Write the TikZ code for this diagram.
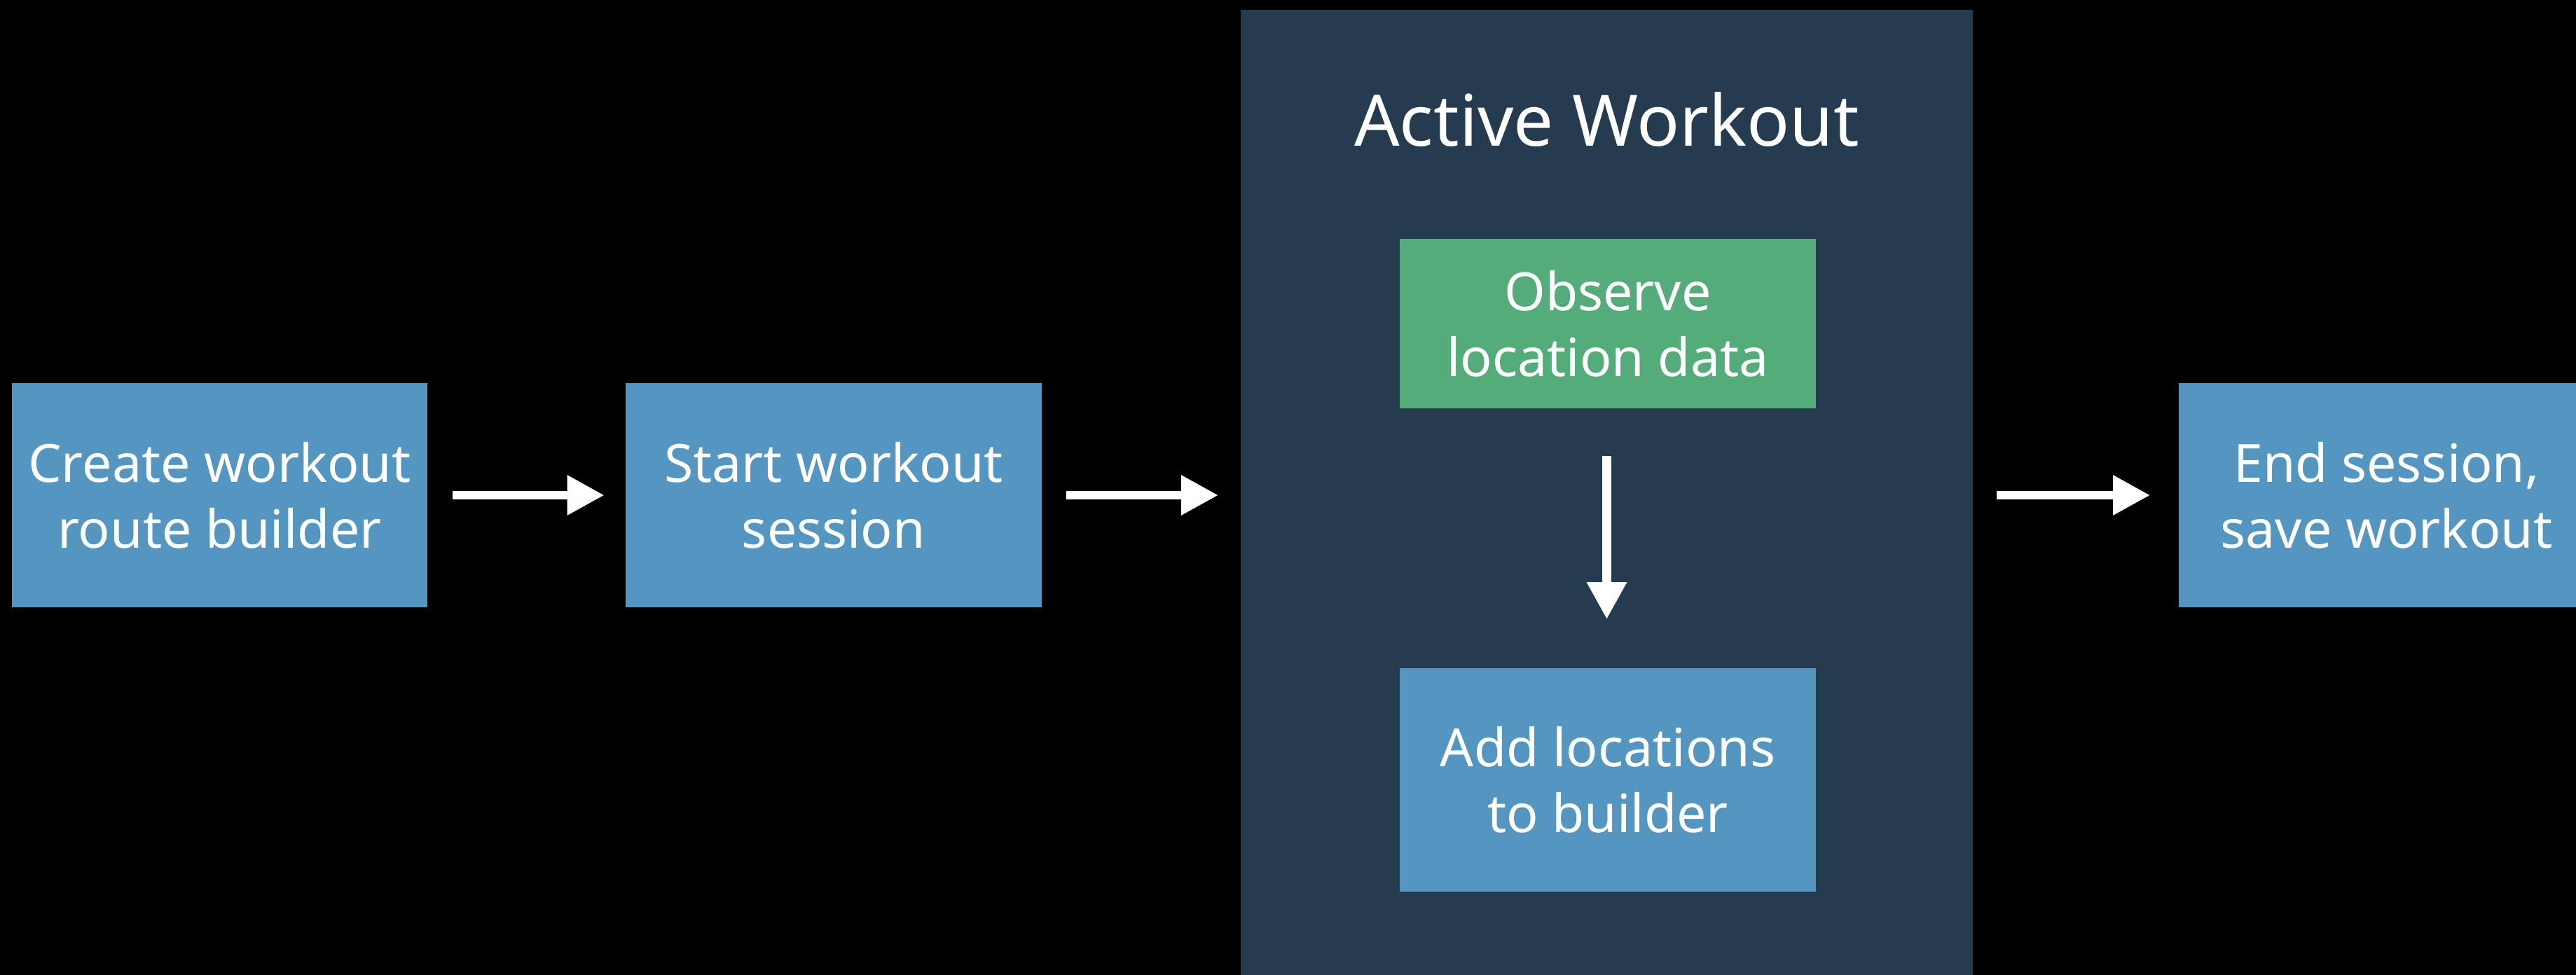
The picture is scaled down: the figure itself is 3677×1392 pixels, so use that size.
\documentclass[tikz,border=0pt]{standalone}
\usepackage{fontspec}
\setmainfont{Noto Sans}
\usetikzlibrary{arrows.meta}

\definecolor{boxblue}{RGB}{85,150,192}
\definecolor{boxgreen}{RGB}{85,172,123}
\definecolor{panelnavy}{RGB}{37,59,80}

\tikzset{
	stepbox/.style={fill=boxblue, text=white, align=center, inner sep=0pt,
		minimum width=5.93cm, minimum height=3.2cm,
		font=\fontsize{21.4}{26.7}\selectfont},
	flow/.style={draw=white, line width=0.125cm,
		-{Triangle[length=0.53cm,width=0.54cm]}},
}

\begin{document}
\begin{tikzpicture}[x=0.01cm, y=-0.01cm]
		\useasboundingbox (0,0) rectangle (3677,1392);
		\clip (0,0) rectangle (3677,1392);
		\fill[black] (0,0) rectangle (3677,1392);

		% active workout panel
		\node[fill=panelnavy, inner sep=0pt, minimum width=10.45cm, minimum height=13.78cm] (panel) at (2293.5,703) {};
		\node[text=white, anchor=base, font=\fontsize{28.8}{34}\selectfont] (title) at (2293.5,209) {Active Workout};

		\node[stepbox] (create) at (313.5,707) {Create workout\\route builder};
		\node[stepbox] (start) at (1190,707) {Start workout\\session};
		\node[stepbox, fill=boxgreen, minimum height=2.42cm] (observe) at (2295,462) {Observe\\location data};
		\node[stepbox, minimum height=3.19cm] (addloc) at (2295,1113.5) {Add locations\\to builder};
		\node[stepbox] (finish) at (3406.5,707) {End session,\\save workout};

		\draw[flow, shorten <=0.35cm, shorten >=0.3cm] (create.east) -- (start.west);
		\draw[flow, shorten <=0.35cm, shorten >=0.31cm] (start.east) -- (panel.west |- start.east);
		\draw[flow, shorten <=0.33cm, shorten >=0.4cm] (panel.east |- finish.west) -- (finish.west);
		\draw[flow, shorten <=0.67cm, shorten >=0.69cm] (observe.south -| panel.center) -- (addloc.north -| panel.center);
	\end{tikzpicture}
\end{document}
